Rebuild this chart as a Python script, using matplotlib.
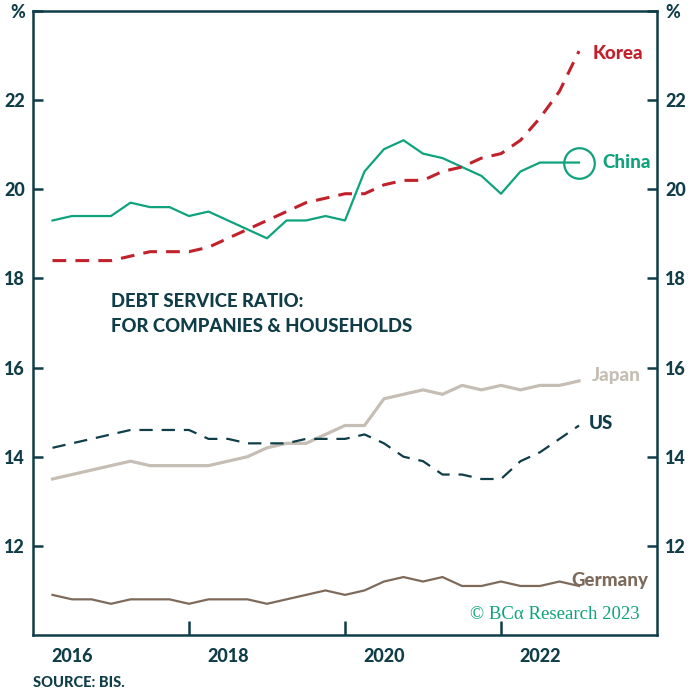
import numpy as np
import matplotlib
matplotlib.use("Agg")
import matplotlib.pyplot as plt

# quarterly debt service ratios, 2016Q1 .. 2022Q4 (%)
quarters = np.arange(2016.25, 2023.01, 0.25)

korea = [18.4, 18.4, 18.4, 18.4, 18.5, 18.6, 18.6, 18.6, 18.7, 18.9, 19.1, 19.3, 19.5, 19.7,
         19.8, 19.9, 19.9, 20.1, 20.2, 20.2, 20.4, 20.5, 20.7, 20.8, 21.1, 21.6, 22.2, 23.1]
china = [19.3, 19.4, 19.4, 19.4, 19.7, 19.6, 19.6, 19.4, 19.5, 19.3, 19.1, 18.9, 19.3, 19.3,
         19.4, 19.3, 20.4, 20.9, 21.1, 20.8, 20.7, 20.5, 20.3, 19.9, 20.4, 20.6, 20.6, 20.6]
japan = [13.5, 13.6, 13.7, 13.8, 13.9, 13.8, 13.8, 13.8, 13.8, 13.9, 14.0, 14.2, 14.3, 14.3,
         14.5, 14.7, 14.7, 15.3, 15.4, 15.5, 15.4, 15.6, 15.5, 15.6, 15.5, 15.6, 15.6, 15.7]
us = [14.2, 14.3, 14.4, 14.5, 14.6, 14.6, 14.6, 14.6, 14.4, 14.4, 14.3, 14.3, 14.3, 14.4,
      14.4, 14.4, 14.5, 14.3, 14.0, 13.9, 13.6, 13.6, 13.5, 13.5, 13.9, 14.1, 14.4, 14.7]
germany = [10.9, 10.8, 10.8, 10.7, 10.8, 10.8, 10.8, 10.7, 10.8, 10.8, 10.8, 10.7, 10.8, 10.9,
           11.0, 10.9, 11.0, 11.2, 11.3, 11.2, 11.3, 11.1, 11.1, 11.2, 11.1, 11.1, 11.2, 11.1]

y_ticks = [12, 14, 16, 18, 20, 22, 24]
y_labels = ["12", "14", "16", "18", "20", "22", "%"]
year_labels = ["2016", "2018", "2020", "2022"]

DARK = "#0f3d48"
RED = "#c0212b"
GREEN = "#0ea37c"
BEIGE = "#c6beb4"
BROWN = "#7e6a5b"

plt.rcParams["font.family"] = ["Lato", "DejaVu Sans"]
W = "black"

fig = plt.figure(figsize=(6.94, 6.92), dpi=100)
ax = fig.add_axes([33 / 694, 1 - 635 / 692, 624 / 694, 624 / 692])

ax.plot(quarters, germany, color=BROWN, lw=1.6)
ax.plot(quarters, japan, color=BEIGE, lw=2.3)
ax.plot(quarters, us, color=DARK, lw=1.6, dashes=(6, 4))
ax.plot(quarters, china, color=GREEN, lw=1.6)
ax.plot(quarters, korea, color=RED, lw=2.2, dashes=(4.5, 3))
ax.plot(quarters[-1], china[-1], "o", ms=22, mfc="none", mec=GREEN, mew=1.6)

ax.set_xlim(2016, 2024)
ax.set_ylim(10, 24)

# series labels at the end of each line
lab = dict(fontsize=13.5, fontweight=W, va="center", ha="left")
ax.text(2023.18, 23.05, "Korea", color=RED, **lab)
ax.text(2023.3, china[-1], "China", color=GREEN, **lab)
ax.text(2023.16, 15.82, "Japan", color=BEIGE, **lab)
ax.text(2023.12, 14.75, "US", color=DARK, **lab)
ax.text(2022.9, 11.23, "Germany", color=BROWN, **lab)
ax.text(2023.78, 10.45, "\u00a9 BC\u03b1 Research 2023", color=GREEN, fontsize=13.5,
        family=["Liberation Serif", "DejaVu Serif"], va="center", ha="right")

ax.text(2017.0, 17.2, "DEBT SERVICE RATIO:\nFOR COMPANIES & HOUSEHOLDS", color=DARK,
        fontsize=13.3, fontweight=W, va="center", ha="left", linespacing=1.55)

for s in ax.spines.values():
    s.set_color(DARK)
    s.set_linewidth(1.8)

ax.set_yticks(y_ticks)
ax.set_yticklabels(y_labels)
ax.tick_params(axis="y", direction="in", length=7, width=1.8, color=DARK, right=True,
               labelright=True, labelsize=13, labelcolor=DARK, pad=6)
for tick in ax.yaxis.get_major_ticks():
    tick.label1.set_fontweight(W)
    tick.label2.set_fontweight(W)

ax.set_xticks([2018, 2020, 2022])
ax.set_xticklabels([])
ax.set_xticks([2016.5, 2018.5, 2020.5, 2022.5], minor=True)
ax.set_xticklabels(year_labels, minor=True)
ax.tick_params(axis="x", which="major", direction="in", length=10, width=1.8, color=DARK)
ax.tick_params(axis="x", which="minor", length=0, pad=9, labelsize=13, labelcolor=DARK)
for t in ax.get_xticklabels(minor=True):
    t.set_fontweight(W)

fig.text(33 / 694, 1 - 683 / 692, "SOURCE: BIS.", color=DARK, fontsize=10.5,
         fontweight=W, va="center", ha="left")

fig.savefig("out.png", dpi=100)
